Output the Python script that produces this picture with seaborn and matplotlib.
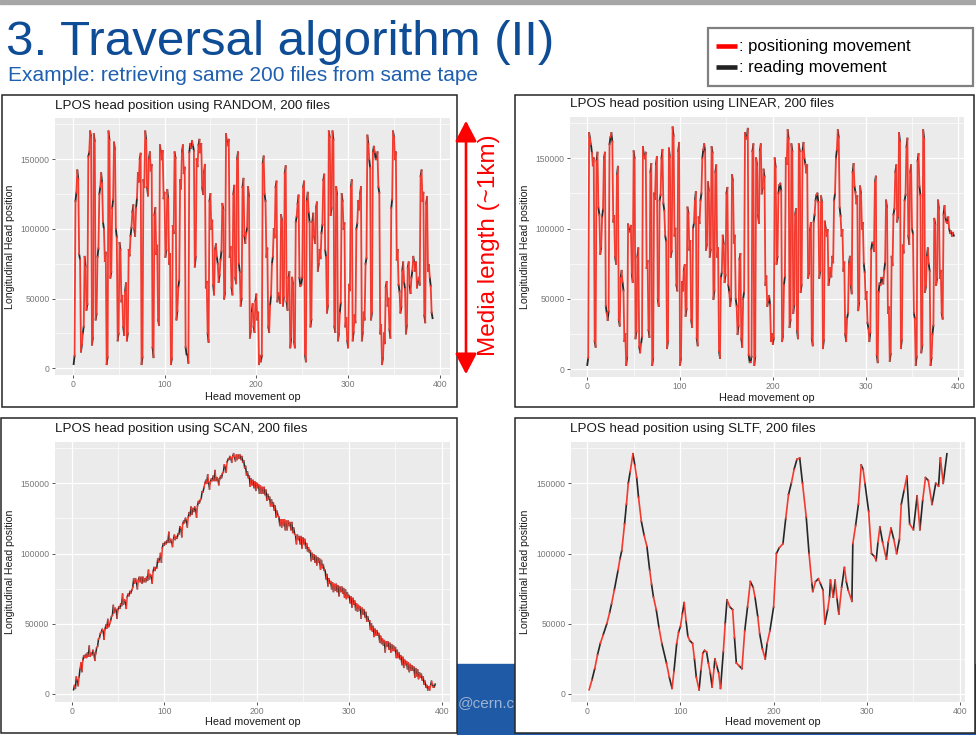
import matplotlib
matplotlib.use("Agg")
import matplotlib.pyplot as plt
import numpy as np
import pandas as pd
import seaborn as sns
from matplotlib.patches import Rectangle, FancyArrowPatch
from matplotlib.ticker import FuncFormatter

# ---------------------------------------------------------------- data
# head positions in thousands of LPOS units
random_start = [
    3, 120, 142, 82, 12,
    25, 80, 42, 152, 170,
    17, 168, 35, 80, 125,
    140, 105, 77, 3, 170,
    65, 115, 162, 100, 20,
    90, 48, 30, 55,
    20, 85, 95, 112, 100,
    115, 140, 150, 3, 135,
    170, 130, 150, 142, 15,
    110, 82, 35, 160, 150,
    122, 80, 128, 75, 3,
    102, 155, 35, 58, 135,
    155, 140, 15, 10, 155,
    158, 160, 73, 150, 160,
    155, 130, 140, 58, 25,
    120, 100, 60, 85, 80,
    62, 78, 118, 50, 168,
    160, 80, 58, 125, 65,
    150, 75, 45, 130, 95,
    97, 130, 22, 40, 30,
    48, 35, 3, 5, 147,
    125, 80, 30, 45, 75,
    100, 130, 48, 52, 110,
    45, 140, 48, 65, 15,
    65, 20, 105, 118, 65,
    60, 130, 10, 120, 112,
    30, 105, 95, 115, 70,
    85, 97, 135, 85, 40,
    170, 110, 170, 30, 130,
    20, 40, 125, 100, 30,
    20, 60, 130, 20, 38,
    100, 120, 125, 20, 40,
    75, 167, 150, 35, 155,
    155, 150, 130, 25, 3,
    25, 58, 45, 28, 115,
    170, 150, 78, 60, 40,
    70, 62, 25, 72, 60,
    65, 80, 70, 58, 65,
    138, 120, 38, 118, 70,
    65, 40]
random_read = [
    6, 6, -6, -4, 5, 5, -7, 4, 3, -4,
    5, -5, 4, 6, 5, -7, -5, 6, 5, -6,
    4, 6, -5, -6, 5, -5, 4, -6, 6, 5,
    -4, 6, 5, -5, 7, -6, 4, 5, -5, -6,
    -6, 5, 4, -7, 5, 6, -4, -5, 6, 4,
    5, -6, 7, 4, -5, -4, 6, 5, -6, 5,
    4, -5, -6, 6, 5, -4, 7, -5, 4, 6,
    -5, 6, 4, -6, 5, 6, -7, 4, -5, 5,
    6, -4, 5, -6, 4, 7, -5, 6, -4, 5,
    -6, 5, 6, -5, 4, -7, 5, 6, -4, 5,
    5, 6, 4, 5, -5, 6, -4, 7, 5, -6,
    4, 6, -5, -4, 6, 5, -6, 4, 7, -5,
    -5, 4, 6, -6, 5, 4, -5, 6, -7, 5,
    6, -5, 4, 5, -6, 6, 4, -5, 5, -4,
    5, -6, -4, -6, 5, 7, -5, 4, 6, -5,
    -4, 5, 6, -5, 4, -6, 5, 6, -5, 4,
    -6, -6, 5, 4, -5, 5, -4, 6, 5, -7,
    4, 5, -6, 6, -4, 5, 7, -5, 4, 6,
    -5, 6, 4, -6, 5, -4, 6, 5, -5, 4,
    6, -5, 5, 4, -6, -4]

linear_start = [
    3, 168, 160, 145, 20, 148, 115, 82, 108, 150,
    45, 35, 160, 168, 105, 80, 138, 35, 65, 62,
    20, 3, 103, 98, 68, 155, 22, 80, 16, 18,
    158, 150, 72, 28, 140, 3, 125, 145, 50, 120,
    150, 118, 95, 15, 157, 80, 172, 95, 60, 155,
    3, 62, 70, 38, 115, 85, 35, 100, 120, 22,
    108, 120, 150, 160, 85, 133, 80, 158, 50, 140,
    80, 13, 65, 95, 62, 125, 60, 45, 138, 90,
    50, 25, 78, 22, 50, 168, 165, 10, 5, 155,
    3, 150, 110, 155, 125, 142, 60, 45, 52, 20,
    18, 150, 75, 125, 132, 20, 60, 150, 170, 30,
    160, 40, 110, 28, 160, 55, 155, 150, 140, 65,
    98, 22, 105, 120, 125, 65, 123, 15, 105, 95,
    60, 72, 80, 120, 150, 170, 115, 95, 70, 25,
    36, 75, 60, 140, 130, 118, 42, 130, 100, 75,
    50, 33, 20, 85, 90, 133, 10, 55, 60, 65,
    70, 120, 40, 6, 80, 110, 140, 105, 168, 15,
    88, 120, 158, 95, 140, 100, 40, 3, 148, 130,
    12, 170, 55, 80, 75, 3, 25, 107, 60, 120,
    65, 40, 110, 108, 104, 100, 98, 97]
linear_read = [
    5, -4, -6, 5, -4, 6, -5, 5, 6, 4,
    -5, 6, 5, -6, 4, -5, 6, -4, 5, -6,
    5, 6, -5, 4, -6, -5, 5, 6, -4, 5,
    -6, 4, 5, -5, 6, 5, -4, 6, -5, 4,
    6, -5, -4, 5, -6, 4, -6, 5, -4, 6,
    5, -6, 4, 5, -4, 6, -5, 4, 6, -5,
    -4, 5, 6, -5, 4, -6, 5, -4, 6, 5,
    6, -5, 4, -6, 5, 4, -5, 6, -4, 5,
    -5, 6, 4, -6, 5, -4, 6, -5, 4, 5,
    6, -5, -6, 5, 4, -5, 6, 4, -6, 5,
    4, -6, 5, 6, -5, 4, 6, -4, -6, 5,
    -5, 6, 4, -6, -5, 5, 6, -4, 5, 4,
    6, -5, 5, 4, -6, 5, -4, 6, -5, 4,
    5, -6, -4, 5, 6, -5, -6, 4, 6, -5,
    4, 5, -6, 6, -4, 5, 6, -5, 4, -6,
    5, -4, 6, 5, -6, 4, -5, 6, 5, -4,
    6, -5, 4, 5, -6, 4, 5, 4, -6, 6,
    -5, 4, 6, -6, 5, -4, -4, 6, 5, -6,
    5, -6, 4, 6, -5, 5, 6, -4, 5, -6,
    5, -4, 6, -3, 4, -3, -3, -2]

scan_start = [
    3, 4, 10, 12, 22, 24, 26, 26, 27, 27,
    28, 29, 29, 34, 40, 44, 45, 46, 47, 48,
    52, 56, 58, 60, 60, 61, 63, 64, 66, 69,
    70, 72, 76, 79, 80, 81, 80, 79, 80, 80,
    81, 82, 84, 87, 88, 90, 94, 100, 104, 106,
    107, 108, 108, 109, 110, 110, 111, 114, 118, 121,
    122, 124, 126, 127, 128, 130, 132, 134, 136, 139,
    144, 150, 150, 151, 151, 152, 152, 152, 153, 153,
    154, 158, 162, 165, 167, 168, 169, 169, 170, 170,
    170, 169, 166, 162, 158, 155, 153, 152, 151, 150,
    149, 148, 147, 147, 145, 142, 140, 138, 136, 134,
    130, 126, 124, 124, 124, 123, 123, 122, 122, 118,
    113, 113, 112, 112, 111, 110, 107, 104, 102, 100,
    99, 98, 97, 96, 95, 92, 88, 85, 82, 80,
    79, 78, 78, 77, 76, 76, 75, 74, 72, 70,
    69, 68, 66, 64, 63, 62, 61, 60, 58, 55,
    52, 50, 48, 46, 45, 43, 41, 39, 38, 37,
    37, 36, 35, 34, 33, 31, 29, 27, 26, 24,
    23, 22, 21, 20, 19, 18, 17, 15, 14, 12,
    9, 6, 5, 6, 7, 5]
scan_read = [
    3, 8, -4, 6, -6, 3, 2, 3, 7, 2,
    3, -5, 4, 5, 3, 2, -6, 3, 6, 2,
    3, 7, 3, -6, 2, 3, 8, 3, -5, 2,
    3, 2, 6, 3, -5, 2, 3, 4, 2, 3,
    7, 3, -5, 3, 2, 6, 3, -6, 3, 2,
    2, 7, 2, -4, 3, 2, 3, 5, -6, 2,
    3, -5, 3, 6, 4, 3, -6, 3, 2, 5,
    3, 2, 6, -5, 2, 3, 7, 2, -4, 2,
    3, 5, -4, 2, 2, -3, 2, -3, -3, -2,
    -3, -4, -5, -6, -4, -7, -4, -5, -6, -3,
    -6, -5, -4, -5, -7, -3, -6, -4, -5, -8,
    -3, -6, -5, -4, -7, -6, -3, -5, -7, -4,
    -6, -3, -5, -8, -4, -6, -5, -3, -7, -4,
    -5, -6, -3, -7, -5, -4, -6, -8, -3, -5,
    -6, -4, -5, -7, -3, -4, -6, -6, -3, -5,
    -7, -4, -6, -5, -3, -8, -4, -5, -6, -3,
    -6, -5, -7, -4, -3, -6, -5, -4, -8, -3,
    -5, -6, -4, -3, -7, -5, -4, -6, -7, -3,
    -5, -6, -4, -3, -7, -5, -6, -3, -4, -5,
    -4, -3, -2, 3, -2, 2]

sltf_op = [
    2, 5, 8, 11, 14, 17, 21, 24, 26, 29,
    33, 35, 37, 40, 42, 44, 46, 49, 51, 53,
    55, 58, 61, 64, 67, 69, 71, 74, 77, 80,
    85, 88, 91, 93, 96, 98, 100, 102, 104, 106,
    108, 110, 113, 115, 117, 120, 122, 124, 126, 128,
    130, 132, 134, 136, 137, 139, 141, 143, 146, 148,
    150, 153, 156, 158, 160, 163, 166, 169, 172, 175,
    178, 180, 183, 185, 188, 191, 193, 196, 200, 203,
    206, 210, 213, 216, 219, 222, 225, 228, 231, 235,
    238, 241, 242, 245, 248, 250, 253, 255, 258, 260,
    261, 264, 266, 268, 270, 273, 276, 278, 280, 284,
    285, 288, 291, 294, 296, 298, 302, 305, 308, 310,
    312, 314, 317, 321, 323, 326, 329, 332, 335, 337,
    340, 343, 346, 350, 354, 357, 360, 363, 366, 370,
    374, 377, 379, 382, 386]
sltf_pos = [
    3, 10, 18, 28, 36, 42, 50, 58, 64, 74,
    88, 96, 102, 121, 135, 150, 158, 171, 163, 154,
    140, 123, 113, 105, 88, 78, 69, 60, 47, 36,
    22, 12, 4, 16, 36, 44, 48, 57, 65, 52,
    41, 38, 36, 25, 12, 3, 17, 29, 31, 30,
    22, 15, 5, 18, 25, 20, 15, 4, 30, 50,
    67, 62, 60, 40, 22, 20, 18, 45, 62, 80,
    76, 69, 55, 43, 32, 25, 36, 45, 62, 100,
    104, 107, 125, 142, 150, 160, 167, 168, 150, 126,
    100, 79, 73, 80, 82, 79, 74, 50, 60, 69,
    81, 69, 81, 68, 57, 76, 90, 80, 74, 66,
    107, 120, 135, 163, 160, 150, 130, 100, 98, 95,
    108, 119, 108, 96, 108, 118, 110, 100, 110, 135,
    145, 155, 121, 117, 141, 117, 138, 154, 152, 135,
    150, 148, 168, 150, 171]

panel_titles = ["LPOS head position using RANDOM, 200 files",
                "LPOS head position using LINEAR, 200 files",
                "LPOS head position using SCAN, 200 files",
                "LPOS head position using SLTF, 200 files"]
x_ticks = [0, 100, 200, 300, 400]
x_minor = [50, 150, 250, 350]
y_ticks = [0, 50000, 100000, 150000]
y_minor = [25000, 75000, 125000, 175000]
x_title = "Head movement op"
y_title = "Longitudinal Head position"
kinds = ["reading", "positioning"]          # drawing order: red on top
legend_labels = [": positioning movement", ": reading movement"]
slide_title = "3. Traversal algorithm (II)"
slide_subtitle = "Example: retrieving same 200 files from same tape"
arrow_label = "Media length (~1km)"
footer_text = "@cern.ch"

PAL = {"positioning": "#F23A2F", "reading": "#262626"}

# ---------------------------------------------------------------- helpers
def path_from_files(starts, reads, first_op):
    pos = []
    for s, r in zip(starts, reads):
        pos += [s, s + r]
    return [first_op + i for i in range(len(pos))], pos


def segment_frame(ops, pos, first_kind):
    other = "positioning" if first_kind == "reading" else "reading"
    rows = []
    for j in range(len(pos) - 1):
        k = first_kind if j % 2 == 0 else other
        rows.append((j, ops[j], pos[j] * 1000, k))
        rows.append((j, ops[j + 1], pos[j + 1] * 1000, k))
    return pd.DataFrame(rows, columns=["seg", "op", "lpos", "kind"])


W, H = 976, 735
plt.rcParams["font.family"] = ["Liberation Sans", "DejaVu Sans"]
fig = plt.figure(figsize=(W / 100, H / 100), dpi=100)

bg = fig.add_axes([0, 0, 1, 1])
bg.set_xlim(0, W)
bg.set_ylim(H, 0)
bg.axis("off")

# slide decoration
bg.add_patch(Rectangle((0, 0), W, 4, color="#A6A6A6", zorder=1))
bg.add_patch(Rectangle((457, 664), W - 457, H - 664, color="#1F5AA6", zorder=1))
bg.text(458, 703, footer_text, color="#9DB3D3", fontsize=11, va="center",
        ha="left", zorder=2)
bg.text(6, 55, slide_title, fontsize=35.5, color="#0E4C96", va="baseline",
        ha="left", zorder=5)
bg.text(8, 75, slide_subtitle, fontsize=15, color="#1F5FAF", va="center",
        ha="left", zorder=5)

# legend box
bg.add_patch(Rectangle((708, 28), 265, 58, fc="white", ec="#808080", lw=1.6, zorder=3))
bg.plot([716, 737], [46, 46], color="#FF0000", lw=3.3, solid_capstyle="butt", zorder=4)
bg.plot([716, 737], [67, 67], color="#222222", lw=3.3, solid_capstyle="butt", zorder=4)
bg.text(739, 46, legend_labels[0], fontsize=12, va="center", ha="left", zorder=5)
bg.text(739, 67, legend_labels[1], fontsize=12, va="center", ha="left", zorder=5)

# media length arrow
arr = FancyArrowPatch((466, 118), (466, 377),
                      arrowstyle="<|-|>,head_length=1.15,head_width=0.6",
                      mutation_scale=11, lw=1.9, color="#FF0000", zorder=4)
bg.add_patch(arr)
bg.text(489, 245, arrow_label, rotation=90, fontsize=17.5, color="#FF0000",
        ha="center", va="center", zorder=5)

rand_ops, rand_pos = path_from_files(random_start, random_read, 1)
lin_ops, lin_pos = path_from_files(linear_start, linear_read, 0)
scan_ops, scan_pos = path_from_files(scan_start, scan_read, 2)

panels = [
    dict(frame=(1.5, 95, 456.5, 407), ax=(55, 118.3, 450, 375),
         title=(55, 105.5), xl=(252.5, 396.5), yl=(10, 246.5),
         xlim=(-19.3, 411), ylim=(-4800, 179400), lw=1.3,
         df=segment_frame(rand_ops, rand_pos, "reading")),
    dict(frame=(515, 95, 974, 407), ax=(570, 116.7, 964, 376.7),
         title=(570, 104), xl=(767, 397.5), yl=(525, 247),
         xlim=(-18.6, 406), ylim=(-5300, 179600), lw=1.3,
         df=segment_frame(lin_ops, lin_pos, "reading")),
    dict(frame=(1, 418, 456.5, 733), ax=(54.5, 441.7, 450, 701.7),
         title=(55, 428.5), xl=(253, 722), yl=(10, 572),
         xlim=(-18.6, 409), ylim=(-5500, 179600), lw=1.1,
         df=segment_frame(scan_ops, scan_pos, "reading")),
    dict(frame=(515, 418, 974.5, 733), ax=(570.7, 441.7, 965, 701.7),
         title=(570, 428.5), xl=(773, 722), yl=(525, 572),
         xlim=(-17.8, 405.4), ylim=(-5500, 179600), lw=1.2,
         df=segment_frame(sltf_op, sltf_pos, "positioning")),
]

for i, p in enumerate(panels):
    fx0, fy0, fx1, fy1 = p["frame"]
    bg.add_patch(Rectangle((fx0, fy0), fx1 - fx0, fy1 - fy0, fc="white",
                           ec="#262626", lw=1.1, zorder=3))
    bg.text(p["title"][0], p["title"][1], panel_titles[i], fontsize=9.6,
            color="#1A1A1A", ha="left", va="center", zorder=5)
    bg.text(p["xl"][0], p["xl"][1], x_title, fontsize=7.8, color="#1A1A1A",
            ha="center", va="center", zorder=5)
    bg.text(p["yl"][0], p["yl"][1], y_title, fontsize=7.6, color="#1A1A1A",
            ha="center", va="center", rotation=90, zorder=5)

    x0, y0, x1, y1 = p["ax"]
    ax = fig.add_axes([x0 / W, 1 - y1 / H, (x1 - x0) / W, (y1 - y0) / H])
    ax.set_facecolor("#EBEBEB")
    for s in ax.spines.values():
        s.set_visible(False)
    sns.lineplot(data=p["df"], x="op", y="lpos", hue="kind", hue_order=kinds,
                 units="seg", estimator=None, palette=PAL, lw=p["lw"],
                 legend=False, sort=False, ax=ax)
    ax.set_xlim(*p["xlim"])
    ax.set_ylim(*p["ylim"])
    ax.set_xticks(x_ticks)
    ax.set_xticks(x_minor, minor=True)
    ax.set_yticks(y_ticks)
    ax.set_yticks(y_minor, minor=True)
    ax.yaxis.set_major_formatter(FuncFormatter(lambda v, _: f"{int(v)}"))
    ax.grid(True, which="major", color="white", lw=0.9)
    ax.grid(True, which="minor", color="white", lw=0.45)
    ax.set_axisbelow(True)
    ax.tick_params(which="major", labelsize=6.2, labelcolor="#777777",
                   color="#555555", length=2.2, width=0.7, pad=1.5)
    ax.tick_params(which="minor", length=0)
    ax.set_xlabel("")
    ax.set_ylabel("")

fig.savefig("out.png", dpi=100)
